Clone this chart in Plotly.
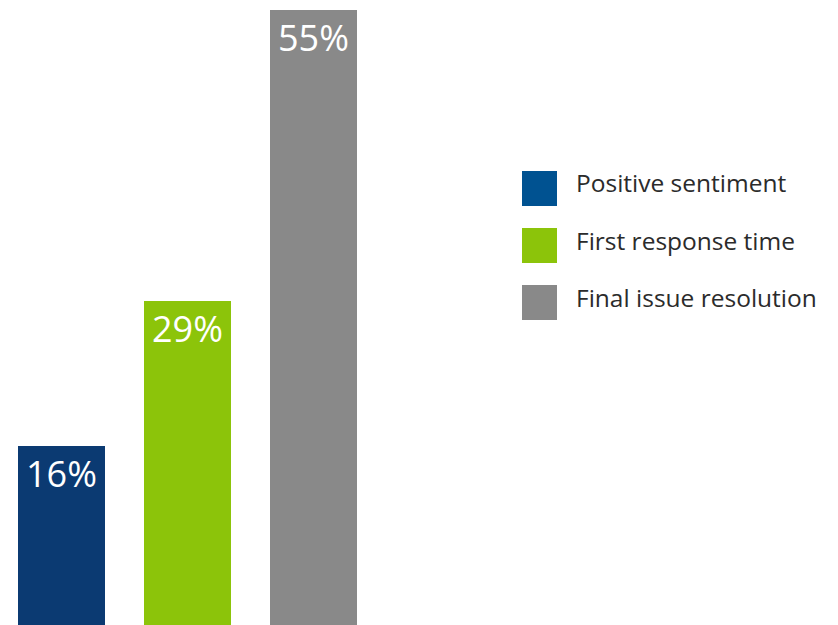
import plotly.graph_objects as go

# Share of outcomes by metric
categories = ["Positive sentiment", "First response time", "Final issue resolution"]
values = [16, 29, 55]
bar_colors = ["#0b3a72", "#8cc40a", "#898989"]
legend_colors = ["#005291", "#8cc40a", "#898989"]

W, H = 838, 625

fig = go.Figure(
    go.Bar(
        x=list(range(len(categories))),
        y=values,
        width=0.69,
        marker=dict(color=bar_colors, line=dict(width=0)),
        text=[f"{v}%" for v in values],
        textposition="inside",
        insidetextanchor="end",
        textangle=0,
        textfont=dict(family="'Open Sans', sans-serif", size=36, color="white"),
        constraintext="none",
        hoverinfo="skip",
        showlegend=False,
    )
)

# Custom legend with large square swatches
sw_left, sw_size, text_left = 522, 35, 574
row_tops = [171, 228, 285]
shapes, annotations = [], []
for name, color, top in zip(categories, legend_colors, row_tops):
    shapes.append(dict(
        type="rect", xref="paper", yref="paper",
        x0=sw_left / W, x1=(sw_left + sw_size) / W,
        y0=1 - (top + sw_size) / H, y1=1 - top / H,
        fillcolor=color, line=dict(width=0),
    ))
    annotations.append(dict(
        text=name, xref="paper", yref="paper",
        x=text_left / W, y=1 - (top + 12) / H,
        xanchor="left", yanchor="middle", showarrow=False,
        font=dict(family="'Open Sans', sans-serif", size=24.5, color="#2b2b2b"),
    ))

fig.update_layout(
    width=W, height=H,
    margin=dict(l=0, r=0, t=0, b=0),
    paper_bgcolor="white", plot_bgcolor="white",
    xaxis=dict(visible=False, range=[-61.5 / 126, (W - 61.5) / 126]),
    yaxis=dict(visible=False, range=[0, 55 * H / 615]),
    shapes=shapes,
    annotations=annotations,
    bargap=0,
)

fig.write_html("out.html")
